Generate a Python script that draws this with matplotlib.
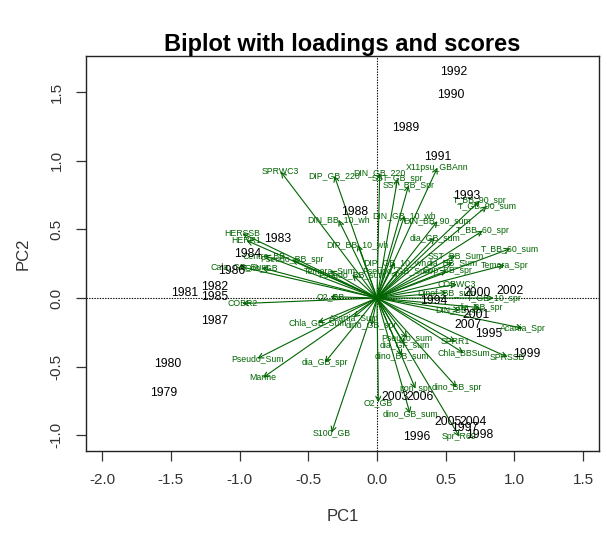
import matplotlib
matplotlib.use("Agg")
import matplotlib.pyplot as plt

plt.rcParams['font.family'] = ['Liberation Sans', 'DejaVu Sans']

# ---- scores (years) ----
year_labels = ["1992", "1990", "1989", "1991", "1993", "1988", "1983", "1984", "1986",
               "1982", "1981", "1985", "1987", "1980", "1979", "1994", "2000", "2002",
               "2001", "2007", "1995", "1999", "2003", "2006", "2005", "2004", "1997",
               "1998", "1996"]
year_pc1 = [0.56, 0.54, 0.21, 0.44, 0.65, -0.16, -0.72, -0.94, -1.06,
            -1.18, -1.40, -1.18, -1.18, -1.52, -1.55, 0.41, 0.73, 0.97,
            0.72, 0.66, 0.81, 1.09, 0.13, 0.31, 0.52, 0.70, 0.64,
            0.75, 0.29]
year_pc2 = [1.65, 1.48, 1.24, 1.03, 0.74, 0.63, 0.43, 0.32, 0.20,
            0.08, 0.04, 0.01, -0.17, -0.48, -0.69, -0.02, 0.04, 0.05,
            -0.12, -0.20, -0.26, -0.41, -0.72, -0.72, -0.90, -0.90, -0.95,
            -1.00, -1.01]

# ---- loadings ----
load_names = ["SPRWC3", "DIP_GB_220", "DIN_GB_220", "SST_GB_spr", "SST_BB_Spr",
              "X11psu_GBAnn", "DIN_GB_10_wh", "DIN_BB_90_sum", "dia_GB_sum",
              "DIN_BB_10_wh", "DIP_BB_10_wh", "T_BB_60_spr", "T_BB_60_sum",
              "Temora_Spr", "T_BB_90_spr", "T_GB_90_sum", "SST_BB_Sum",
              "dia_BB_Sum", "Cop_BB_spr", "COBWC3", "Dinof_BB_sum", "T_GB_10_spr",
              "dia_BB_spr", "DIN_BB_spr", "Acartia_Spr", "SPRSSB", "SPRR1",
              "Chla_BBSum", "dino_BB_sum", "Pseudo_sum", "dia_GF_sum",
              "dino_BB_spr", "pon_spr", "O2_GB", "dino_GB_sum", "Spr_R69",
              "S100_GB", "Marine", "Pseudo_Sum", "dia_GB_spr", "Chla_GB_Sum",
              "Acartia_Sum", "dino_GB_spr", "O2_BB", "COBR2", "HERSSB", "HERR1",
              "Centro_BB", "Pseudo_BB_spr", "Cala_GB_Sum", "Oith_GB", "Temora_Sum",
              "Pseudo_BB_sum", "DIP_GB_10_wh", "Pseudo_GB_Sum"]
load_pc1 = [-0.70, -0.31, 0.02, 0.15, 0.23,
            0.44, 0.20, 0.44, 0.42,
            -0.28, -0.14, 0.77, 0.97,
            0.93, 0.75, 0.80, 0.57,
            0.55, 0.51, 0.58, 0.51, 0.85,
            0.75, 0.60, 1.06, 0.95, 0.57,
            0.63, 0.18, 0.22, 0.20,
            0.58, 0.28, 0.01, 0.24, 0.60,
            -0.33, -0.83, -0.87, -0.38, -0.43,
            -0.17, -0.04, -0.34, -0.98, -0.98, -0.95,
            -0.82, -0.62, -1.00, -0.84, -0.34,
            -0.18, 0.13, 0.15]
load_pc2 = [0.92, 0.89, 0.91, 0.87, 0.82,
            0.95, 0.60, 0.56, 0.44,
            0.57, 0.39, 0.49, 0.36,
            0.24, 0.71, 0.67, 0.31,
            0.26, 0.20, 0.10, 0.04, 0.00,
            -0.07, -0.09, -0.22, -0.43, -0.32,
            -0.40, -0.42, -0.29, -0.34,
            -0.65, -0.66, -0.76, -0.84, -1.01,
            -0.98, -0.58, -0.44, -0.47, -0.18,
            -0.14, -0.20, 0.01, -0.04, 0.47, 0.42,
            0.31, 0.28, 0.23, 0.22, 0.20,
            0.17, 0.26, 0.20]

fig = plt.figure(figsize=(6.07, 5.36), dpi=100)
ax = fig.add_axes([86/607, 1-450.7/536, (599-86)/607, (450.7-56)/536])

ax.set_xlim(-2.118, 1.616)
ax.set_ylim(-1.112, 1.763)

ax.axhline(0, color='black', linestyle=(0, (1.2, 1.2)), linewidth=0.8, zorder=1)
ax.axvline(0, color='black', linestyle=(0, (1.2, 1.2)), linewidth=0.8, zorder=1)

green = '#006400'
for nm, x, y in zip(load_names, load_pc1, load_pc2):
    ax.annotate('', xy=(x, y), xytext=(0, 0),
                arrowprops=dict(arrowstyle='->,head_length=0.35,head_width=0.18',
                                color=green, lw=0.8, shrinkA=0, shrinkB=0),
                zorder=2)
    ax.text(x, y, nm, color=green, fontsize=6.3, ha='center', va='center', zorder=3)

for lab, x, y in zip(year_labels, year_pc1, year_pc2):
    ax.text(x, y, lab, color='black', fontsize=8.8, ha='center', va='center', zorder=4)

ax.set_xticks([-2.0, -1.5, -1.0, -0.5, 0.0, 0.5, 1.0, 1.5])
ax.set_xticklabels(["-2.0", "-1.5", "-1.0", "-0.5", "0.0", "0.5", "1.0", "1.5"])
ax.set_yticks([-1.0, -0.5, 0.0, 0.5, 1.0, 1.5])
ax.set_yticklabels(["-1.0", "-0.5", "0.0", "0.5", "1.0", "1.5"], rotation=90, va='center')
ax.tick_params(direction='out', length=7, width=0.9, labelsize=11, colors='#333333',
               labelcolor='#333333', pad=9, top=False, right=False)
for s in ax.spines.values():
    s.set_linewidth(1.0)
    s.set_color('#222222')

ax.set_xlabel("PC1", fontsize=12, color='#333333', labelpad=16)
ax.set_ylabel("PC2", fontsize=12, color='#333333', labelpad=14)
fig.text(342.5/607, 1-45/536, "Biplot with loadings and scores", ha='center', va='center',
         fontsize=17, fontweight='bold')

fig.savefig("out.png", dpi=100)
